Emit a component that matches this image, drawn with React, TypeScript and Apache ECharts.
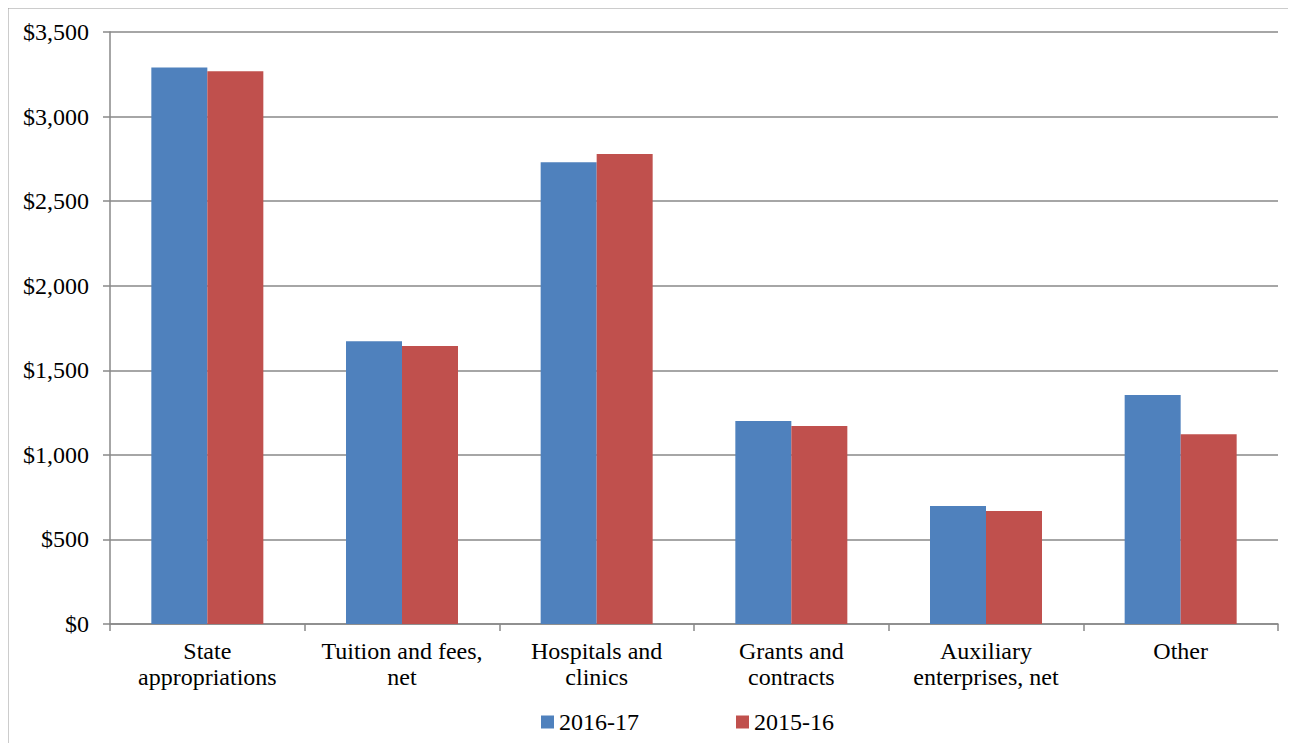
import React, { useEffect, useRef } from "react";
import * as echarts from "echarts";

const categories = [
  "State\nappropriations",
  "Tuition and fees,\nnet",
  "Hospitals and\nclinics",
  "Grants and\ncontracts",
  "Auxiliary\nenterprises, net",
  "Other",
];
const series2016 = [3290, 1672, 2730, 1200, 698, 1354];
const series2015 = [3268, 1644, 2778, 1171, 668, 1122];
const seriesNames = ["2016-17", "2015-16"];

const FONT = "Liberation Serif";

export default function App() {
  const ref = useRef<HTMLDivElement>(null);
  useEffect(() => {
    if (!ref.current) return;
    document.documentElement.style.overflow = "hidden";
    document.body.style.overflow = "hidden";
    const chart = echarts.init(ref.current, undefined, { renderer: "svg" });
    chart.setOption({
      animation: false,
      backgroundColor: "#ffffff",
      textStyle: { fontFamily: FONT },
      graphic: [
        {
          type: "line",
          shape: { x1: 0, y1: 0.75, x2: 1300, y2: 0.75 },
          style: { stroke: "#999", lineWidth: 1.5 },
          silent: true,
        },
        {
          type: "line",
          shape: { x1: 0.75, y1: 0, x2: 0.75, y2: 760 },
          style: { stroke: "#999", lineWidth: 1.5 },
          silent: true,
        },
      ],
      grid: { left: 103, right: 18, top: 25, bottom: 119, containLabel: false },
      legend: {
        top: 698,
        left: 529,
        itemWidth: 13,
        itemHeight: 13,
        itemGap: 97,
        icon: "rect",
        textStyle: { fontFamily: FONT, fontSize: 24, color: "#000" },
        data: seriesNames,
      },
      xAxis: {
        type: "category",
        data: categories,
        axisLine: { lineStyle: { color: "#888", width: 1.5 } },
        axisTick: { show: true, length: 7, lineStyle: { color: "#888", width: 1.5 } },
        axisLabel: {
          fontFamily: FONT,
          fontSize: 24,
          color: "#000",
          margin: 14,
          lineHeight: 26,
          interval: 0,
        },
      },
      yAxis: {
        type: "value",
        min: 0,
        max: 3500,
        interval: 500,
        axisLine: { show: true, lineStyle: { color: "#888", width: 1.5 } },
        axisTick: { show: true, length: 7, lineStyle: { color: "#888", width: 1.5 } },
        splitLine: { show: true, lineStyle: { color: "#888", width: 1.5 } },
        axisLabel: {
          fontFamily: FONT,
          fontSize: 24,
          color: "#000",
          margin: 21,
          formatter: (v: number) => "$" + v.toLocaleString("en-US"),
        },
      },
      series: [
        {
          name: seriesNames[0],
          type: "bar",
          data: series2016,
          barWidth: 56,
          barGap: "0%",
          itemStyle: { color: "#4F81BD" },
        },
        {
          name: seriesNames[1],
          type: "bar",
          data: series2015,
          barWidth: 56,
          barGap: "0%",
          itemStyle: { color: "#C0504D" },
        },
      ],
    });
    return () => chart.dispose();
  }, []);
  return (
    <div
      ref={ref}
      style={{ width: 1289, height: 736, marginTop: -1, marginLeft: -1 }}
    />
  );
}
